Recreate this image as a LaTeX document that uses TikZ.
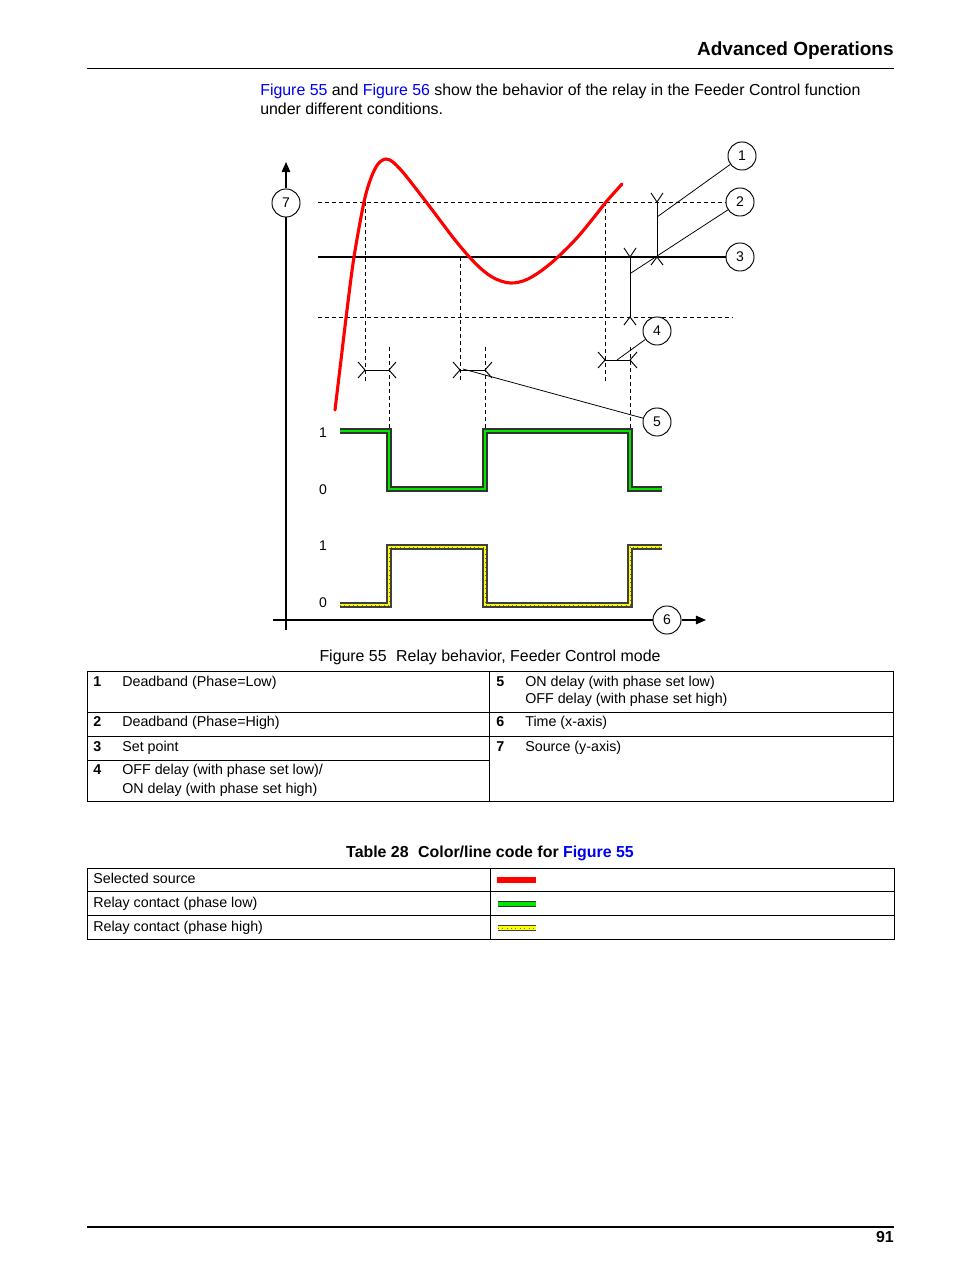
\documentclass[tikz,border=0pt]{standalone}
\usepackage{fontspec}
\setmainfont{Liberation Sans}
\usetikzlibrary{arrows.meta}
\definecolor{lnk}{RGB}{0,0,238}
\definecolor{sigred}{RGB}{255,0,0}
\definecolor{siggreen}{RGB}{0,230,0}
\definecolor{sigyellow}{RGB}{255,255,0}
\newcommand{\dlyH}[3]{%
  \draw[mk] (#2,#1) -- (#3,#1);
  \draw[mk] (#2,#1) ++(-7,-8) -- ++(7,8) -- ++(-7,8);
  \draw[mk] (#3,#1) ++(7,-8) -- ++(-7,8) -- ++(7,8);}
\newcommand{\dlyV}[3]{%
  \draw[mk] (#1,#2) -- (#1,#3);
  \draw[mk] (#1,#2) ++(-6,-9) -- ++(6,9) -- ++(6,-9);
  \draw[mk] (#1,#3) ++(-6,8) -- ++(6,-8) -- ++(6,8);}
\begin{document}
\begin{tikzpicture}[x=0.6415pt,y=-0.6415pt,
  txt/.style={inner sep=0pt, font=\fontsize{10.2}{12}\selectfont},
  ttxt/.style={inner sep=0pt, anchor=base west, font=\fontsize{9.15}{11}\selectfont},
  tnum/.style={inner sep=0pt, anchor=base west, font=\fontsize{9.15}{11}\selectfont\bfseries},
  circ/.style={circle, draw, fill=white, line width=0.6pt, minimum size=18pt, inner sep=0pt, font=\fontsize{9}{10}\selectfont},
  axis/.style={line width=0.9pt},
  dsh/.style={line width=0.6pt, dash pattern=on 2.6pt off 1.9pt},
  mk/.style={line width=0.6pt},
  lead/.style={line width=0.5pt},
  tbl/.style={line width=0.6pt},
  redsig/.style={sigred, line width=2pt, line cap=round, line join=round},
  greenout/.style={black!80, line width=3.4pt, line join=miter},
  greenin/.style={siggreen, line width=1.9pt, line join=miter},
  yelout/.style={black!75, line width=3.4pt, line join=miter},
  yelin/.style={sigyellow, line width=1.9pt, line join=miter},
  yeldot/.style={black!60, line width=0.35pt, dash pattern=on 0.6pt off 2.2pt}
]
\useasboundingbox (0,0) rectangle (954,1270);
\fill[white] (0,0) rectangle (954,1270);

% header
\node[anchor=base east, inner sep=0pt, font=\fontsize{12.2}{14}\selectfont\bfseries] (hdr) at (894,56) {Advanced Operations};
\draw[line width=0.55pt] (87,68) -- (894,68);

% paragraph
\node[txt, anchor=base west] (p1) at (260,96) {\textcolor{lnk}{Figure 55} and \textcolor{lnk}{Figure 56} show the behavior of the relay in the Feeder Control function};
\node[txt, anchor=base west] (p2) at (260,115) {under different conditions.};

% reference lines
\coordinate (dl1) at (318,202);
\coordinate (sp1) at (318,257);
\coordinate (dl2) at (318,317);
\coordinate (dl2e) at (733,317);
\draw[dsh] (dl2) -- (dl2e);

% circles
\node[circ] (c1) at (742,156) {1};
\node[circ] (c2) at (740,202) {2};
\node[circ] (c3) at (740,257) {3};
\node[circ] (c4) at (657,331) {4};
\node[circ] (c5) at (657,422) {5};

\draw[dsh] (dl1) -- (c2.west);
\draw[line width=0.75pt] (sp1) -- (c3.west);

% vertical dashed lines
\draw[dsh] (365,202) -- (365,382);
\draw[dsh] (460,257) -- (460,382);
\draw[dsh] (605,202) -- (605,382);
\draw[dsh] (389,347) -- (389,431);
\draw[dsh] (485,347) -- (485,431);
\draw[dsh] (630,347) -- (630,431);

% deadband markers
\dlyV{657}{202}{257}
\dlyV{630}{257}{317}
% delay markers
\dlyH{370}{365}{389}
\dlyH{370}{460}{485}
\dlyH{360}{605}{630}

% leaders
\coordinate (m1) at (657,217);
\coordinate (m2) at (631,273);
\coordinate (m4) at (617,360);
\coordinate (m5) at (463,369);
\draw[lead] (c1) -- (m1);
\draw[lead] (c2) -- (m2);
\draw[lead] (c4) -- (m4);
\draw[lead] (c5) -- (m5);

% red source curve
\draw[redsig] plot[smooth, tension=0.55] coordinates {(335,410) (341,360) (347,310) (354,257) (364,202) (371,178) (378,164) (386,159) (394,163) (406,176) (430,207) (455,240) (475,263) (492,277) (510,283) (528,279) (550,264) (575,240) (595,216) (606,202) (622,184)};

% green relay signal
\draw[greenout] (340,431) -- (389,431) -- (389,489) -- (485,489) -- (485,431) -- (630,431) -- (630,489) -- (662,489);
\draw[greenin] (340,431) -- (389,431) -- (389,489) -- (485,489) -- (485,431) -- (630,431) -- (630,489) -- (662,489);

% yellow relay signal
\draw[yelout] (340,605) -- (389,605) -- (389,547) -- (485,547) -- (485,605) -- (630,605) -- (630,547) -- (662,547);
\draw[yelin] (340,605) -- (389,605) -- (389,547) -- (485,547) -- (485,605) -- (630,605) -- (630,547) -- (662,547);
\draw[yeldot] (340,605) -- (389,605) -- (389,547) -- (485,547) -- (485,605) -- (630,605) -- (630,547) -- (662,547);

% level labels
\node[font=\fontsize{9}{10}\selectfont, inner sep=0pt] (g1) at (323,433) {1};
\node[font=\fontsize{9}{10}\selectfont, inner sep=0pt] (g0) at (323,490) {0};
\node[font=\fontsize{9}{10}\selectfont, inner sep=0pt] (y1) at (323,546) {1};
\node[font=\fontsize{9}{10}\selectfont, inner sep=0pt] (y0) at (323,603) {0};

% axes
\node[circ] (c7) at (286,203) {7};
\node[circ] (c6) at (667,620) {6};
\coordinate (ybot) at (286,630);
\coordinate (ytop) at (286,162);
\coordinate (xl) at (273,620);
\coordinate (xr) at (706,620);
\draw[axis] (ybot) -- (c7.south);
\draw[axis, -{Triangle[length=6.5pt,width=5.5pt]}] (c7.north) -- (ytop);
\draw[axis] (xl) -- (c6.west);
\draw[axis, -{Triangle[length=6.5pt,width=5.5pt]}] (c6.east) -- (xr);

% caption
\node[txt, anchor=base] (cap) at (490,661) {Figure 55\hspace{0.6em}Relay behavior, Feeder Control mode};

% table 1
\draw[tbl] (87,671) rectangle (893,801);
\draw[tbl] (489,671) -- (489,801);
\draw[tbl] (87,712) -- (893,712);
\draw[tbl] (87,736) -- (893,736);
\draw[tbl] (87,760) -- (489,760);

\node[tnum] (n1) at (93,686) {1};
\node[ttxt] (t1) at (122,686) {Deadband (Phase=Low)};
\node[tnum] (n2) at (93,726) {2};
\node[ttxt] (t2) at (122,726) {Deadband (Phase=High)};
\node[tnum] (n3) at (93,751) {3};
\node[ttxt] (t3) at (122,751) {Set point};
\node[tnum] (n4) at (93,774) {4};
\node[ttxt] (t4a) at (122,774) {OFF delay (with phase set low)/};
\node[ttxt] (t4b) at (122,793) {ON delay (with phase set high)};
\node[tnum] (n5) at (496,686) {5};
\node[ttxt] (t5a) at (525,686) {ON delay (with phase set low)};
\node[ttxt] (t5b) at (525,703) {OFF delay (with phase set high)};
\node[tnum] (n6) at (496,726) {6};
\node[ttxt] (t6) at (525,726) {Time (x-axis)};
\node[tnum] (n7) at (496,751) {7};
\node[ttxt] (t7) at (525,751) {Source (y-axis)};

% table 28
\node[inner sep=0pt, anchor=base, font=\fontsize{10.2}{12}\selectfont\bfseries] (t28) at (490,857) {Table 28\hspace{0.6em}Color/line code for \textcolor{lnk}{Figure 55}};
\draw[tbl] (87,868) rectangle (894,939);
\draw[tbl] (490,868) -- (490,939);
\draw[tbl] (87,891) -- (894,891);
\draw[tbl] (87,915) -- (894,915);
\node[ttxt] (l1) at (93,883) {Selected source};
\node[ttxt] (l2) at (93,907) {Relay contact (phase low)};
\node[ttxt] (l3) at (93,931) {Relay contact (phase high)};
\draw[sigred, line width=3.4pt] (497,880) -- (536,880);
\draw[greenout, line width=3.8pt] (498,904) -- (536,904);
\draw[greenin, line width=2.2pt] (498,904) -- (536,904);
\draw[yelout, line width=3.8pt] (498,928) -- (536,928);
\draw[yelin, line width=2.2pt] (498,928) -- (536,928);
\draw[yeldot] (498,928) -- (536,928);

% footer
\draw[line width=1.2pt] (87,1227) -- (894,1227);
\node[anchor=base east, inner sep=0pt, font=\fontsize{10.2}{12}\selectfont\bfseries] (pg) at (894,1242) {91};
\end{tikzpicture}
\end{document}
